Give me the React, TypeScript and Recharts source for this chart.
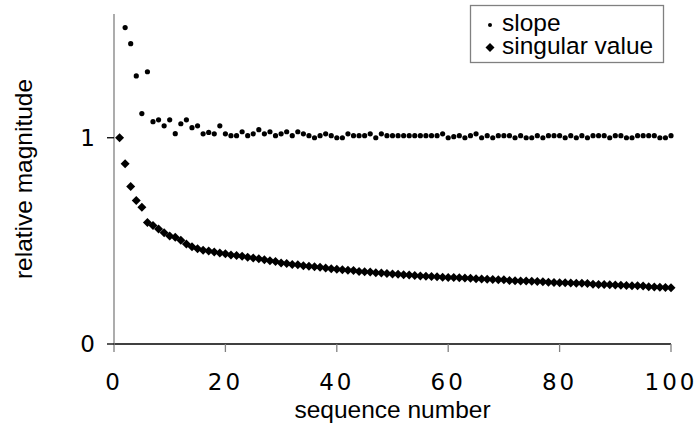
import { ScatterChart, Scatter, XAxis, YAxis } from 'recharts';

// singular value, sequence 1..100
const singularValues = [
  1.0, 0.874, 0.764, 0.696, 0.663, 0.589, 0.575, 0.558, 0.54, 0.524,
  0.518, 0.503, 0.485, 0.472, 0.462, 0.455, 0.451, 0.446, 0.441, 0.437,
  0.432, 0.429, 0.426, 0.421, 0.417, 0.413, 0.409, 0.404, 0.4, 0.393,
  0.39, 0.386, 0.384, 0.38, 0.377, 0.374, 0.372, 0.368, 0.365, 0.362,
  0.36, 0.357, 0.356, 0.352, 0.35, 0.349, 0.346, 0.344, 0.342, 0.339,
  0.338, 0.336, 0.334, 0.332, 0.33, 0.329, 0.327, 0.326, 0.324, 0.323,
  0.322, 0.321, 0.32, 0.319, 0.316, 0.315, 0.314, 0.313, 0.312, 0.311,
  0.308, 0.307, 0.306, 0.305, 0.304, 0.303, 0.302, 0.299, 0.298, 0.297,
  0.297, 0.296, 0.295, 0.294, 0.293, 0.29, 0.289, 0.288, 0.287, 0.286,
  0.285, 0.284, 0.283, 0.282, 0.281, 0.277, 0.276, 0.275, 0.274, 0.273,
];

// slope, sequence 2..100
const slopeValues = [
  1.534, 1.456, 1.3, 1.117, 1.32, 1.078, 1.087, 1.058, 1.087,
  1.02, 1.068, 1.087, 1.049, 1.058, 1.019, 1.026, 1.019, 1.058, 1.019,
  1.01, 1.01, 1.029, 1.01, 1.019, 1.039, 1.019, 1.029, 1.01, 1.019,
  1.029, 1.01, 1.029, 1.019, 1.01, 1.0, 1.01, 1.019, 1.01, 1.0,
  1.0, 1.019, 1.01, 1.01, 1.01, 1.019, 1.0, 1.019, 1.01, 1.01,
  1.01, 1.01, 1.01, 1.01, 1.01, 1.01, 1.01, 1.01, 1.019, 1.0,
  1.005, 1.01, 1.0, 1.01, 1.019, 1.0, 1.01, 1.0, 1.01, 1.01,
  1.01, 1.0, 1.01, 1.0, 1.0, 1.01, 1.0, 1.01, 1.01, 1.01,
  1.0, 1.01, 1.0, 1.01, 1.0, 1.01, 1.01, 1.01, 1.0, 1.01,
  1.01, 1.0, 1.0, 1.01, 1.01, 1.01, 1.01, 1.0, 1.0, 1.01,
];

const xTicks = [0, 20, 40, 60, 80, 100];
const yTicks = [0, 1];
const seriesNames = ['slope', 'singular value'];

const singularData = singularValues.map((v, i) => ({ seq: i + 1, value: v }));
const slopeData = slopeValues.map((v, i) => ({ seq: i + 2, value: v }));

const tickFont = { fontFamily: 'DejaVu Sans', fontSize: 23, fill: '#000', letterSpacing: 3 };
const titleFont = 'Liberation Sans, Arial, sans-serif';
const titleSize = 24.5;

function DotShape(props: any) {
  return <circle cx={props.cx} cy={props.cy} r={2.6} fill="#000" />;
}

function DiamondShape(props: any) {
  const { cx, cy } = props;
  const s = 4.5;
  return <polygon points={`${cx},${cy - s} ${cx + s},${cy} ${cx},${cy + s} ${cx - s},${cy}`} fill="#000" />;
}

function XTitle(props: any) {
  const vb = props.viewBox;
  return (
    <text x={vb.x + vb.width / 2} y={418} textAnchor="middle" fontFamily={titleFont} fontSize={titleSize} fill="#000">
      sequence number
    </text>
  );
}

function YTitle() {
  return (
    <text
      x={0}
      y={0}
      transform="translate(32,179) rotate(-90)"
      textAnchor="middle"
      fontFamily={titleFont}
      fontSize={titleSize}
      fill="#000"
    >
      relative magnitude
    </text>
  );
}

function LegendBox() {
  return (
    <svg width={694} height={436} style={{ position: 'absolute', left: 0, top: 0, pointerEvents: 'none' }}>
      <rect x={470.5} y={5.5} width={193} height={57} fill="#fff" stroke="#808080" strokeWidth={1.3} />
      <circle cx={490} cy={25} r={2} fill="#000" />
      <text x={502} y={31} fontFamily={titleFont} fontSize={titleSize} fill="#000">
        {seriesNames[0]}
      </text>
      <polygon points="490,43 494.5,47.5 490,52 485.5,47.5" fill="#000" />
      <text x={502} y={54} fontFamily={titleFont} fontSize={titleSize} fill="#000">
        {seriesNames[1]}
      </text>
    </svg>
  );
}

export default function App() {
  return (
    <div style={{ position: 'absolute', left: 0, top: 0, width: 694, height: 436, background: '#fff' }}>
      <ScatterChart width={694} height={436} margin={{ top: 14, right: 23, bottom: 7, left: 0 }}>
        <XAxis
          type="number"
          dataKey="seq"
          domain={[0, 100]}
          ticks={xTicks}
          height={85}
          axisLine={{ stroke: '#000', strokeWidth: 1.3 }}
          tickLine={{ stroke: '#808080', strokeWidth: 1.3 }}
          tickSize={8}
          tickMargin={22}
          tick={tickFont}
          label={XTitle}
        />
        <YAxis
          type="number"
          dataKey="value"
          domain={[0, 1.6]}
          ticks={yTicks}
          width={114}
          allowDataOverflow
          axisLine={{ stroke: '#808080', strokeWidth: 1.3 }}
          tickLine={{ stroke: '#000', strokeWidth: 1.3 }}
          tickSize={7}
          tickMargin={9}
          tick={tickFont}
          label={YTitle}
        />
        <Scatter name={seriesNames[1]} data={singularData} shape={DiamondShape} isAnimationActive={false} />
        <Scatter name={seriesNames[0]} data={slopeData} shape={DotShape} isAnimationActive={false} />
      </ScatterChart>
      <LegendBox />
    </div>
  );
}
